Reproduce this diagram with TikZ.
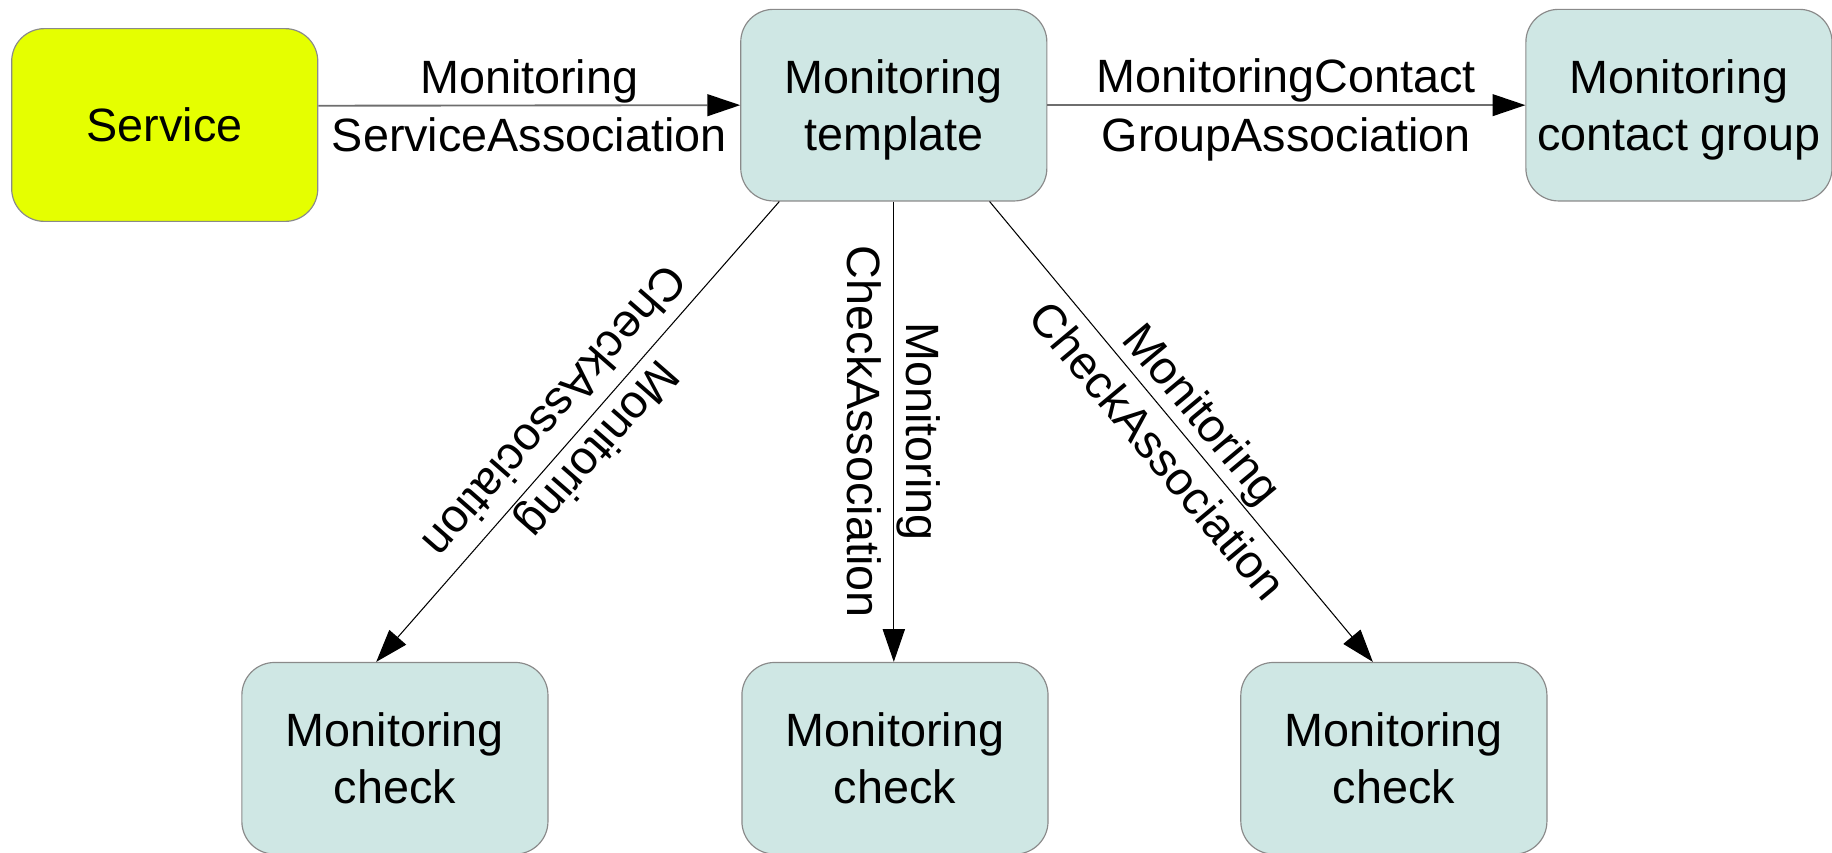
\documentclass[tikz,border=0pt]{standalone}
\usepackage{fontspec}
\setmainfont{Liberation Sans}
\usetikzlibrary{arrows.meta}
\definecolor{tealbox}{HTML}{CFE7E4}
\definecolor{svcfill}{HTML}{E5FF00}
\definecolor{boxline}{HTML}{8A8A8A}
\definecolor{hline}{HTML}{6E6E6E}
\begin{document}
\begin{tikzpicture}[x=1pt,y=-1pt,
  box/.style={draw=boxline, line width=1pt, rounded corners=28pt,
    minimum width=262pt, minimum height=164pt, inner sep=0pt, text depth=0pt,
    align=center, font=\fontsize{40}{49}\selectfont},
  tbox/.style={box, fill=tealbox},
  lbl/.style={align=center, inner sep=0pt, text depth=0pt, font=\fontsize{40}{50}\selectfont},
  hconn/.style={draw=hline, line width=1.6pt, -{Triangle[length=28pt,width=19pt,color=black,line width=0pt]}},
  dconn/.style={draw=black, line width=0.9pt, -{Triangle[length=28pt,width=19pt,color=black]}}
]
\useasboundingbox (0,0) rectangle (1568,730);
\node[box, fill=svcfill, minimum height=165pt] (svc) at (141,107) {Service};
\node[tbox] (tmpl) at (765,90) {Monitoring\\template};
\node[tbox] (cg) at (1437,90) {Monitoring\\contact group};
\node[tbox] (chk1) at (338,649) {Monitoring\\check};
\node[tbox] (chk2) at (766,649) {Monitoring\\check};
\node[tbox] (chk3) at (1193,649) {Monitoring\\check};

\draw[hconn] ([yshift=16.5pt]svc.east) -- (tmpl.west)
  node[midway, lbl] {Monitoring\\ServiceAssociation};
\draw[hconn] (tmpl.east) -- (cg.west)
  node[midway, lbl] {MonitoringContact\\GroupAssociation};

\draw[dconn] ([xshift=-98pt]tmpl.south) -- ([xshift=-16pt]chk1.north)
  node[midway, sloped, allow upside down, lbl] {Monitoring\\CheckAssociation};
\draw[dconn] (tmpl.south) -- (tmpl.south |- chk2.north)
  node[midway, sloped, allow upside down, lbl] {Monitoring\\CheckAssociation};
\draw[dconn] ([xshift=82pt]tmpl.south) -- ([xshift=-18pt]chk3.north)
  node[midway, sloped, allow upside down, lbl] {Monitoring\\CheckAssociation};
\end{tikzpicture}
\end{document}
